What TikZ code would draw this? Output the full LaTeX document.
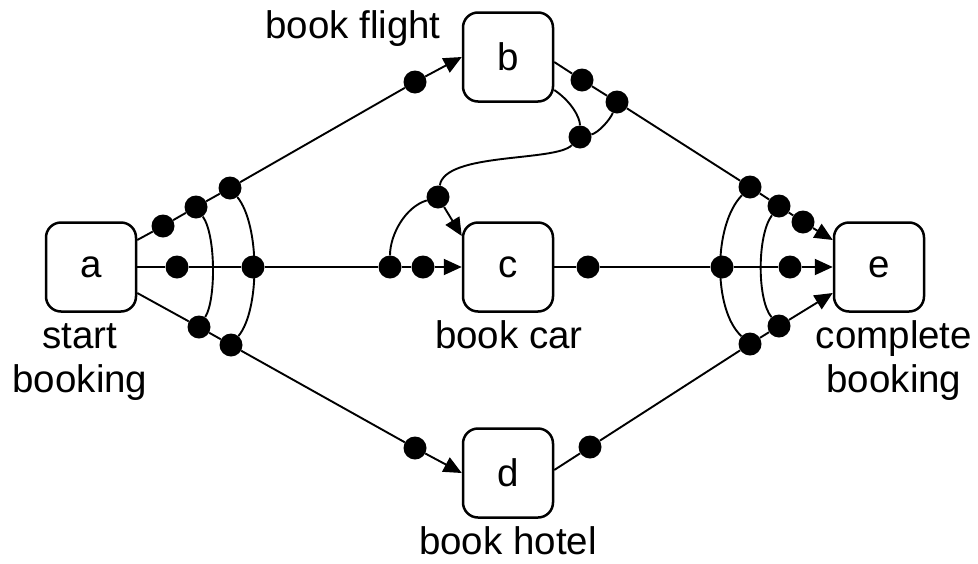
\documentclass[tikz,border=0pt]{standalone}
\usepackage{fontspec}
\setmainfont{Liberation Sans}
\usetikzlibrary{arrows.meta}
\begin{document}
\begin{tikzpicture}[x=1pt,y=-1pt,
  box/.style={draw,line width=2.5pt,rounded corners=15pt,minimum width=90pt,minimum height=89pt,inner sep=0pt,font=\fontsize{38.5}{44}\selectfont},
  dot/.style={circle,fill,inner sep=0pt,minimum size=23pt},
  lbl/.style={anchor=base,inner sep=0pt,font=\fontsize{38.5}{44}\selectfont},
  conn/.style={line width=1.9pt},
  arr/.style={conn,-{Triangle[length=18pt,width=16pt]}}]
\useasboundingbox (0,0) rectangle (978,563);
% boxes
\node[box] (a) at (91,267) {a};
\node[box] (b) at (508,57) {b};
\node[box] (c) at (508,267) {c};
\node[box] (d) at (508,473) {d};
\node[box] (e) at (879,267) {e};
% dots
\node[dot] (u1) at (163,226) {};
\node[dot] (u2) at (196,207) {};
\node[dot] (u3) at (230,188) {};
\node[dot] (u4) at (415,82) {};
\node[dot] (m1) at (177,267) {};
\node[dot] (m2) at (253,267) {};
\node[dot] (m3) at (390,267) {};
\node[dot] (m4) at (423,267) {};
\node[dot] (l1) at (199,327) {};
\node[dot] (l2) at (231,345) {};
\node[dot] (l3) at (415,448) {};
\node[dot] (r1) at (582,80) {};
\node[dot] (r2) at (617,102) {};
\node[dot] (r3) at (750,187) {};
\node[dot] (r4) at (779,206) {};
\node[dot] (r5) at (803,222) {};
\node[dot] (n1) at (588,267) {};
\node[dot] (n2) at (722,267) {};
\node[dot] (n3) at (790,267) {};
\node[dot] (k1) at (590,447) {};
\node[dot] (k2) at (750,344) {};
\node[dot] (k3) at (779,326) {};
\node[dot] (s1) at (580,137) {};
\node[dot] (s2) at (438,197) {};
% straight connectors
\draw[conn] ([yshift=27pt]a.east) -- (u1) -- (u2) -- (u3) -- (u4);
\draw[arr] (u4) -- (b.west);
\draw[conn] (a.east) -- (m1) -- (m2) -- (m3) -- (m4);
\draw[arr] (m4) -- (c.west);
\draw[conn] ([yshift=-26pt]a.east) -- (l1) -- (l2) -- (l3);
\draw[arr] (l3) -- (d.west);
\draw[conn] ([yshift=-5pt]b.east) -- (r1) -- (r2) -- (r3) -- (r4) -- (r5);
\draw[arr] (r5) -- ([yshift=27pt]e.west);
\draw[conn] (c.east) -- (n1) -- (n2) -- (n3);
\draw[arr] (n3) -- (e.west);
\draw[conn] ([yshift=3pt]d.east) -- (k1) -- (k2) -- (k3);
\draw[arr] (k3) -- ([yshift=-26pt]e.west);
% curved connectors
\draw[conn] ([yshift=-33pt]b.east) .. controls (572,102) and (580,118) .. (s1);
\draw[conn] (r2) .. controls (610,120) and (598,133) .. (s1);
\draw[conn] (s1) .. controls (555,162) and (445,152) .. (s2);
\draw[conn] (s2) .. controls (405,207) and (390,235) .. (m3);
\draw[arr] (s2) -- ([yshift=31pt]c.west);
% arcs
\draw[conn] (u2) .. controls (216,235) and (216,300) .. (l1);
\draw[conn] (u3) .. controls (260,225) and (260,310) .. (l2);
\draw[conn] (r3) .. controls (713,225) and (713,310) .. (k2);
\draw[conn] (r4) .. controls (757,235) and (757,300) .. (k3);
% labels
\node[lbl] (lb) at (353,38) {book flight};
\node[lbl] (la1) at (80,348) {start};
\node[lbl] (la2) at (80,392) {booking};
\node[lbl] (lc) at (509,348) {book car};
\node[lbl] (ld) at (508,554) {book hotel};
\node[lbl] (le1) at (894,348) {complete};
\node[lbl] (le2) at (894,392) {booking};
\end{tikzpicture}
\end{document}
